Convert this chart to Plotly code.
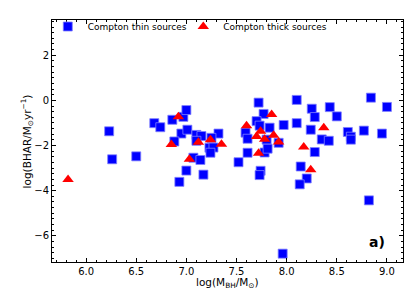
import plotly.graph_objects as go

thin_x = [6.23, 6.26, 6.50, 6.68, 6.74, 6.86, 6.97, 7.00, 6.95, 7.01, 6.88, 7.10, 7.15, 7.10,
          7.32, 7.25, 7.23, 7.27, 7.24, 7.07, 7.14, 7.00, 7.17, 6.93, 7.52, 7.59, 7.61, 7.61,
          7.72, 7.77, 7.70, 7.73, 7.83, 7.97, 8.10, 8.10, 8.25, 8.28, 8.24, 7.80, 7.92, 7.78,
          7.81, 7.74, 7.73, 8.28, 8.14, 8.20, 8.13, 8.35, 8.42, 8.43, 8.50, 8.61, 8.64, 8.64,
          8.77, 8.84, 8.95, 9.00, 8.82, 7.96]
thin_y = [-1.37, -2.61, -2.48, -1.01, -1.19, -0.86, -0.73, -0.43, -1.47, -1.30, -1.82, -1.53, -1.58, -1.79,
          -1.47, -1.66, -2.10, -2.09, -2.32, -2.54, -2.64, -3.11, -3.29, -3.61, -2.74, -1.43, -1.70, -2.32,
          -0.10, -0.60, -0.92, -1.12, -1.21, -1.09, 0.02, -1.01, -0.37, -0.74, -1.30, -1.74, -1.88, -2.31,
          -2.14, -3.12, -3.31, -2.29, -2.93, -3.46, -3.72, -1.73, -1.79, -0.30, -0.71, -1.40, -1.61, -1.74,
          -1.34, 0.12, -1.47, -0.29, -4.43, -6.79]

thick_x = [5.82, 6.92, 6.85, 7.12, 7.03, 7.24, 7.35, 7.60, 7.74, 7.70, 7.78, 7.87, 7.92, 7.85,
           7.72, 8.17, 8.24, 8.37]
thick_y = [-3.50, -0.73, -1.96, -1.86, -2.61, -1.74, -1.94, -1.13, -1.37, -1.60, -1.72, -1.55, -1.84, -0.63,
           -2.34, -2.07, -3.07, -1.21]

x_ticks = [6.0, 6.5, 7.0, 7.5, 8.0, 8.5, 9.0]
y_ticks = [2, 0, -2, -4, -6]

FONT = "DejaVu Sans"

fig = go.Figure()
fig.add_trace(go.Scatter(
    x=thin_x, y=thin_y, mode="markers", name="Compton thin sources",
    marker=dict(symbol="square", size=9, color="#0000ff",
                line=dict(width=0.8, color="#8080ff")),
    legend="legend",
))
fig.add_trace(go.Scatter(
    x=thick_x, y=thick_y, mode="markers", name="Compton thick sources",
    marker=dict(symbol="triangle-up", size=10, color="#ff0000",
                line=dict(width=0)),
    legend="legend2",
))

axis_common = dict(
    showline=True, linecolor="black", linewidth=1, mirror="ticks",
    ticks="inside", ticklen=4, tickwidth=1, tickcolor="black",
    showgrid=False, zeroline=False, automargin=False,
    tickfont=dict(family=FONT, size=10, color="black"),
)

fig.update_xaxes(
    range=[5.66, 9.16], tickvals=x_ticks, ticktext=[f"{v:.1f}" for v in x_ticks],
    minor=dict(ticks="inside", ticklen=2, tickwidth=0.8, tickcolor="black", dtick=0.1, tick0=6.0),
    **axis_common,
)
fig.update_yaxes(
    range=[-7.16, 3.56], tickvals=y_ticks, ticktext=[str(v).replace("-", "−") for v in y_ticks],
    minor=dict(ticks="inside", ticklen=2, tickwidth=0.8, tickcolor="black", dtick=0.25, tick0=0),
    **axis_common,
)

# axis titles as annotations for exact placement
fig.add_annotation(
    x=0.5, y=-0.088, xref="paper", yref="paper",
    text="log(M<sub>BH</sub>/M<sub>⊙</sub>)", showarrow=False,
    xanchor="center", yanchor="middle",
    font=dict(family=FONT, size=10.5, color="black"),
)
fig.add_annotation(
    x=-0.07, y=0.5, xref="paper", yref="paper",
    text="log(BHAR/M<sub>⊙</sub>yr<sup>−1</sup>)", showarrow=False, textangle=-90,
    xanchor="center", yanchor="middle",
    font=dict(family=FONT, size=10.5, color="black"),
)

fig.add_annotation(
    x=0.955, y=0.084, xref="paper", yref="paper", text="<b>a)</b>",
    showarrow=False, xanchor="right", yanchor="middle",
    font=dict(family=FONT, size=14, color="black"),
)

legend_common = dict(
    orientation="h", xanchor="left", yanchor="top",
    bgcolor="rgba(0,0,0,0)", borderwidth=0,
    font=dict(family=FONT, size=9, color="black"),
    itemwidth=30,
)

# the page body adds an 8px offset; compensate in the margins
fig.update_layout(
    width=415, height=308,
    margin=dict(l=44, r=20, t=4, b=54),
    plot_bgcolor="white", paper_bgcolor="white",
    font=dict(family=FONT, size=10, color="black"),
    showlegend=True,
    legend=dict(x=-0.012, y=1.033, **legend_common),
    legend2=dict(x=0.374, y=1.033, **legend_common),
)

fig.write_html("out.html")
